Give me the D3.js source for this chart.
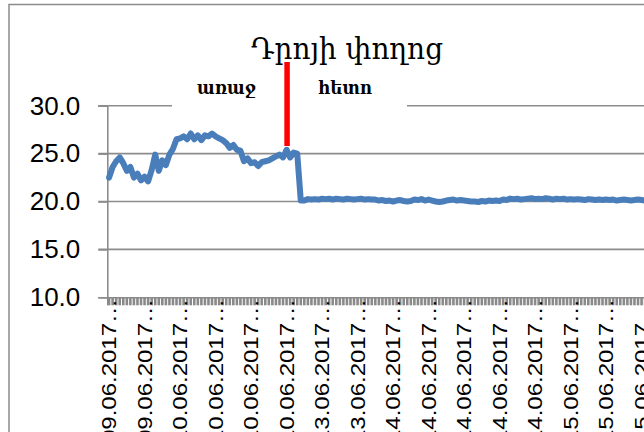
<!DOCTYPE html>
<html>
<head>
<meta charset="utf-8">
<script src="https://cdn.jsdelivr.net/npm/d3@7"></script>
<style>
  body { margin: 0; background: #fff; }
  svg { display: block; }
</style>
</head>
<body>
<svg id="chart" width="644" height="432"></svg>
<script>
// chart texts
const title = "Դրոյի փողոց";
const beforeLabel = "առաջ";
const afterLabel = "հետո";

// y axis ticks
const yTicks = [10, 15, 20, 25, 30];

// one x label every 10 categories
const xLabels = ["09.06.2017", "09.06.2017", "10.06.2017", "10.06.2017", "10.06.2017", "10.06.2017",
  "13.06.2017", "13.06.2017", "14.06.2017", "14.06.2017", "14.06.2017", "14.06.2017", "14.06.2017",
  "15.06.2017", "15.06.2017", "15.06.2017"];
const labelStep = 10;

// index of the category where the change happened (red marker)
const changeIndex = 50;

// series values, one per category
const values = [
  22.5, 23.6, 24.2, 24.6, 24.0, 23.2, 23.6, 22.5, 22.9, 22.2,
  22.6, 22.1, 23.3, 24.9, 23.2, 24.3, 23.8, 24.9, 25.5, 26.5,
  26.6, 26.8, 26.5, 27.1, 26.5, 26.9, 26.4, 26.9, 26.8, 27.1,
  26.8, 26.6, 26.4, 26.1, 25.6, 25.9, 25.4, 25.3, 24.2, 24.5,
  24.0, 24.1, 23.7, 24.1, 24.2, 24.3, 24.5, 24.7, 24.9, 24.6,
  25.4, 24.6, 25.1, 25.0, 20.1, 20.1, 20.25, 20.2, 20.25, 20.2,
  20.3, 20.25, 20.3, 20.2, 20.3, 20.25, 20.2, 20.3, 20.25, 20.2,
  20.25, 20.3, 20.2, 20.25, 20.2, 20.2, 20.1, 20.15, 20.05, 20.1,
  20.0, 20.1, 20.15, 20.05, 20.0, 20.05, 20.2, 20.15, 20.25, 20.1,
  20.2, 20.1, 20.0, 19.95, 20.0, 20.1, 20.15, 20.2, 20.1, 20.15,
  20.1, 20.05, 20.0, 20.0, 19.95, 20.05, 20.0, 20.1, 20.05, 20.1,
  20.05, 20.2, 20.15, 20.3, 20.25, 20.3, 20.2, 20.25, 20.3, 20.35,
  20.25, 20.3, 20.25, 20.35, 20.3, 20.2, 20.3, 20.25, 20.3, 20.2,
  20.25, 20.2, 20.25, 20.2, 20.15, 20.25, 20.2, 20.15, 20.2, 20.15,
  20.2, 20.15, 20.2, 20.1, 20.15, 20.2, 20.15, 20.1, 20.15, 20.2,
  20.15, 20.1
];

const gridColor = "#8c8c8c";
const lineColor = "#4a7ebb";

const svg = d3.select("#chart");

// outer chart frame (runs past the right and bottom edges)
svg.append("rect")
  .attr("x", 9).attr("y", 4.5)
  .attr("width", 800).attr("height", 600)
  .attr("fill", "none")
  .attr("stroke", gridColor)
  .attr("stroke-width", 1.5);

const plotLeft = 107.3, plotTop = 105.7, plotBottom = 297.3;
const bandW = 3.55;

const x = d3.scaleBand()
  .domain(d3.range(values.length))
  .range([plotLeft, plotLeft + values.length * bandW])
  .paddingInner(0).paddingOuter(0);

const y = d3.scaleLinear()
  .domain([10, 30])
  .range([plotBottom, plotTop]);

const cx = i => x(i) + x.bandwidth() / 2;

// horizontal grid lines
svg.append("g")
  .selectAll("line")
  .data(yTicks.slice(1))
  .join("line")
  .attr("x1", plotLeft - 9)
  .attr("x2", 660)
  .attr("y1", d => y(d))
  .attr("y2", d => y(d))
  .attr("stroke", gridColor)
  .attr("stroke-width", 1.6);

// y axis
const yAxis = svg.append("g")
  .attr("transform", `translate(${plotLeft},0)`)
  .call(d3.axisLeft(y).tickValues(yTicks).tickSize(9).tickPadding(18).tickFormat(d3.format(".1f")));
yAxis.select(".domain").attr("stroke", gridColor).attr("stroke-width", 1.6);
yAxis.selectAll(".tick line").attr("stroke", gridColor).attr("stroke-width", 1.6);
yAxis.selectAll(".tick text")
  .attr("font-family", "Liberation Sans, Arial, sans-serif")
  .attr("font-size", 26)
  .attr("fill", "#000");

// x axis: one tick per category, they merge into a grey band
const xAxis = svg.append("g")
  .attr("transform", `translate(0,${plotBottom})`)
  .call(d3.axisBottom(x).tickSize(8).tickFormat(""));
xAxis.select(".domain").attr("stroke", gridColor).attr("stroke-width", 1.6);
xAxis.selectAll(".tick line").attr("stroke", "#8a8a8a").attr("stroke-width", 2.6);

// rotated date labels
svg.append("g")
  .selectAll("text")
  .data(xLabels)
  .join("text")
  .attr("transform", (d, k) => `translate(${cx(k * labelStep)},299) rotate(-90) scale(1.2,1)`)
  .attr("dy", "0.36em")
  .attr("text-anchor", "end")
  .attr("font-family", "Liberation Sans, Arial, sans-serif")
  .attr("font-size", 20)
  .attr("fill", "#000")
  .text(d => d + "\u2026");

// white box with the before / after labels
svg.append("rect")
  .attr("x", 172).attr("y", 72)
  .attr("width", 235).attr("height", 40)
  .attr("fill", "#fff");

svg.append("text")
  .attr("x", 197).attr("y", 94)
  .attr("textLength", 59)
  .attr("lengthAdjust", "spacingAndGlyphs")
  .attr("font-family", "DejaVu Serif, serif")
  .attr("font-weight", "bold")
  .attr("font-size", 19)
  .text(beforeLabel);

svg.append("text")
  .attr("x", 318).attr("y", 94)
  .attr("textLength", 54)
  .attr("lengthAdjust", "spacingAndGlyphs")
  .attr("font-family", "DejaVu Serif, serif")
  .attr("font-weight", "bold")
  .attr("font-size", 19)
  .text(afterLabel);

// title
svg.append("text")
  .attr("x", 251).attr("y", 59)
  .attr("textLength", 192)
  .attr("lengthAdjust", "spacingAndGlyphs")
  .attr("font-family", "DejaVu Serif, serif")
  .attr("font-size", 29)
  .text(title);

// red marker at the change
svg.append("line")
  .attr("x1", cx(changeIndex) + 0.5)
  .attr("x2", cx(changeIndex) + 0.5)
  .attr("y1", 62)
  .attr("y2", 146)
  .attr("stroke", "#ff0000")
  .attr("stroke-width", 5.5);

// data line
const line = d3.line()
  .x((d, i) => cx(i))
  .y(d => y(d));

svg.append("path")
  .datum(values)
  .attr("d", line)
  .attr("fill", "none")
  .attr("stroke", lineColor)
  .attr("stroke-width", 6)
  .attr("stroke-linejoin", "round")
  .attr("stroke-linecap", "round");
</script>
</body>
</html>
